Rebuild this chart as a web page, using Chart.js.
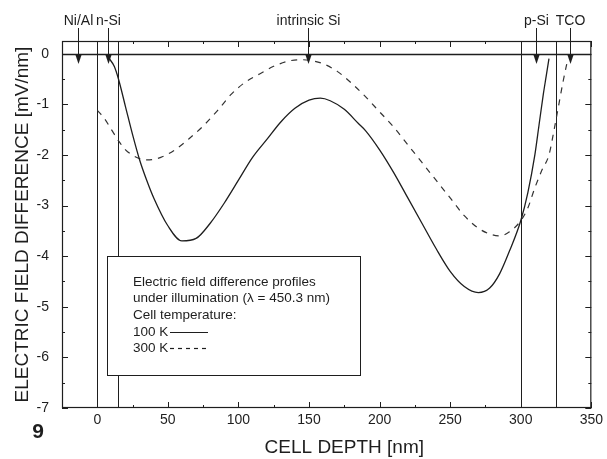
<!DOCTYPE html>
<html>
<head>
<meta charset="utf-8">
<script src="https://cdn.jsdelivr.net/npm/chart.js@4"></script>
<style>
  html, body { margin: 0; padding: 0; background: #fff; }
</style>
</head>
<body>
<canvas id="chart" width="607" height="459"></canvas>
<script>
'use strict';

// DATA
const depth100 = [8, 12, 15, 20, 25, 30, 35, 40, 50, 60, 70, 80, 90, 100, 110, 120, 130, 140, 150, 158, 165, 175, 185, 190, 200, 210, 220, 230, 240, 250, 260, 270, 278, 285, 292, 300, 305, 310, 313, 316, 318, 320];
const field100 = [-0.08, -0.25, -0.5, -1.05, -1.6, -2.1, -2.5, -2.85, -3.4, -3.7, -3.65, -3.35, -2.95, -2.5, -2.05, -1.7, -1.35, -1.08, -0.92, -0.88, -0.93, -1.1, -1.38, -1.52, -1.9, -2.35, -2.85, -3.35, -3.85, -4.3, -4.6, -4.72, -4.63, -4.35, -3.9, -3.3, -2.75, -2.0, -1.4, -0.8, -0.45, -0.1];

const depth300 = [0, 5, 10, 15, 20, 28, 35, 45, 55, 65, 75, 85, 95, 105, 115, 125, 135, 143, 150, 160, 170, 180, 190, 200, 210, 220, 230, 240, 250, 260, 270, 280, 285, 292, 300, 305, 310, 315, 320, 324, 327, 330, 333];
const field300 = [-1.12, -1.28, -1.5, -1.72, -1.9, -2.05, -2.1, -2.05, -1.9, -1.68, -1.43, -1.13, -0.8, -0.56, -0.4, -0.25, -0.15, -0.12, -0.13, -0.2, -0.35, -0.58, -0.85, -1.15, -1.45, -1.8, -2.15, -2.5, -2.85, -3.2, -3.45, -3.58, -3.6, -3.52, -3.3, -3.05, -2.65, -2.3, -2.0, -1.45, -1.0, -0.55, -0.15];

const xTicks = [0, 50, 100, 150, 200, 250, 300, 350];
const yTicks = [-7, -6, -5, -4, -3, -2, -1, 0];

// layer borders and layer arrows
const layerBorders = [0, 15, 300, 325];
const layerNames = ['Ni/Al', 'n-Si', 'intrinsic Si', 'p-Si', 'TCO'];
const layerArrowAt = [-13.5, 7.5, 149, 311, 335];

const legendText = [
  'Electric field difference profiles',
  'under illumination (\u03bb = 450.3 nm)',
  'Cell temperature:',
];
const seriesNames = ['100 K', '300 K'];

const FONT = 'Liberation Sans';
const INK = '#1e1e1e';

const toPoints = (xs, ys) => xs.map((v, i) => ({ x: v, y: ys[i] }));

function line(ctx, x1, y1, x2, y2) {
  ctx.beginPath();
  ctx.moveTo(x1, y1);
  ctx.lineTo(x2, y2);
  ctx.stroke();
}

// frame, inner ticks, layer lines, arrows, legend box
const decor = {
  id: 'decor',
  beforeDatasetsDraw(chart) {
    const { ctx, chartArea: a, scales: { x, y } } = chart;
    ctx.save();
    ctx.strokeStyle = INK;
    ctx.lineWidth = 1;
    layerBorders.forEach(v => {
      const px = Math.round(x.getPixelForValue(v)) + 0.5;
      line(ctx, px, a.top, px, a.bottom);
    });
    const py = Math.round(y.getPixelForValue(0)) + 0.5;
    ctx.lineWidth = 1.6;
    line(ctx, a.left, py, a.right, py);
    ctx.restore();
  },
  afterDatasetsDraw(chart) {
    const { ctx } = chart;
    ctx.save();
    // legend box
    ctx.fillStyle = '#fff';
    ctx.fillRect(107, 256, 253, 119);
    ctx.strokeStyle = INK;
    ctx.lineWidth = 1;
    ctx.strokeRect(107.5, 256.5, 253, 119);
    ctx.fillStyle = INK;
    ctx.font = '13.5px "' + FONT + '"';
    ctx.textBaseline = 'middle';
    ctx.textAlign = 'left';
    legendText.forEach((t, i) => ctx.fillText(t, 133, 282 + i * 16.5));
    seriesNames.forEach((t, i) => {
      const ty = 332 + i * 16;
      ctx.fillText(t, 133, ty);
      ctx.lineWidth = 1.2;
      ctx.setLineDash(i === 0 ? [] : [4, 4]);
      line(ctx, 170, ty + 0.5, 208, ty + 0.5);
    });
    ctx.setLineDash([]);
    ctx.restore();
  },
  afterDraw(chart) {
    const { ctx, chartArea: a, scales: { x, y } } = chart;
    ctx.save();
    ctx.strokeStyle = INK;
    ctx.lineWidth = 1.2;
    ctx.strokeRect(a.left + 0.5, a.top + 0.5, a.right - a.left - 1, a.bottom - a.top - 1);

    // inner ticks
    ctx.lineWidth = 1;
    for (let v = 0; v <= x.max; v += 25) {
      const px = Math.round(x.getPixelForValue(v)) + 0.5;
      const len = v % 50 === 0 ? 6 : 3;
      line(ctx, px, a.bottom, px, a.bottom - len);
      line(ctx, px, a.top, px, a.top + len);
    }
    for (let v = y.min; v <= 0; v += 0.5) {
      const py = Math.round(y.getPixelForValue(v)) + 0.5;
      const len = Number.isInteger(v) ? 6 : 3;
      line(ctx, a.left, py, a.left + len, py);
      line(ctx, a.right, py, a.right - len, py);
    }

    // layer arrows
    ctx.fillStyle = INK;
    ctx.font = '14px "' + FONT + '"';
    ctx.textAlign = 'center';
    ctx.textBaseline = 'middle';
    layerNames.forEach((name, i) => {
      const px = Math.round(x.getPixelForValue(layerArrowAt[i])) + 0.5;
      ctx.fillText(name, px, 21);
      line(ctx, px, 28, px, 56);
      ctx.beginPath();
      ctx.moveTo(px - 3, 55);
      ctx.lineTo(px + 3, 55);
      ctx.lineTo(px, 64);
      ctx.closePath();
      ctx.fill();
    });

    // x axis title, centred over the 0..350 range as in the original
    ctx.font = '19px "' + FONT + '"';
    const cx = (x.getPixelForValue(0) + x.getPixelForValue(x.max)) / 2;
    ctx.fillText('CELL DEPTH [nm]', cx, 448);

    // figure number
    ctx.font = 'bold 21px "' + FONT + '"';
    ctx.fillText('9', 38, 432);
    ctx.restore();
  },
};

const ctx = document.getElementById('chart');

const chart = new Chart(ctx, {
  type: 'scatter',
  data: {
    datasets: [
      {
        label: seriesNames[0],
        data: toPoints(depth100, field100),
        showLine: true,
        borderColor: INK,
        borderWidth: 1.3,
        pointRadius: 0,
        cubicInterpolationMode: 'monotone',
      },
      {
        label: seriesNames[1],
        data: toPoints(depth300, field300),
        showLine: true,
        borderColor: '#333',
        borderWidth: 1.2,
        borderDash: [6, 6],
        pointRadius: 0,
        cubicInterpolationMode: 'monotone',
      },
    ],
  },
  options: {
    responsive: false,
    animation: false,
    layout: { padding: { top: 41, right: 14, left: 0, bottom: 0 } },
    plugins: {
      legend: { display: false },
      tooltip: { enabled: false },
    },
    scales: {
      x: {
        type: 'linear',
        min: -25,
        max: 350,
        afterBuildTicks: s => { s.ticks = xTicks.map(v => ({ value: v })); },
        afterFit: s => { s.height = 51; },
        grid: { display: false, drawTicks: false },
        border: { display: false },
        ticks: { color: INK, padding: 4, maxRotation: 0, autoSkip: false, font: { family: FONT, size: 14 } },
      },
      y: {
        type: 'linear',
        min: -7,
        max: 0.25,
        afterBuildTicks: s => { s.ticks = yTicks.map(v => ({ value: v })); },
        afterFit: s => { s.width = 62; },
        grid: { display: false, drawTicks: false },
        border: { display: false },
        ticks: { color: INK, padding: 13, font: { family: FONT, size: 14 } },
        title: {
          display: true,
          text: 'ELECTRIC FIELD DIFFERENCE [mV/nm]',
          color: INK,
          font: { family: FONT, size: 19 },
          padding: { top: 11, bottom: 0 },
        },
      },
    },
  },
  plugins: [decor],
});
</script>
</body>
</html>
